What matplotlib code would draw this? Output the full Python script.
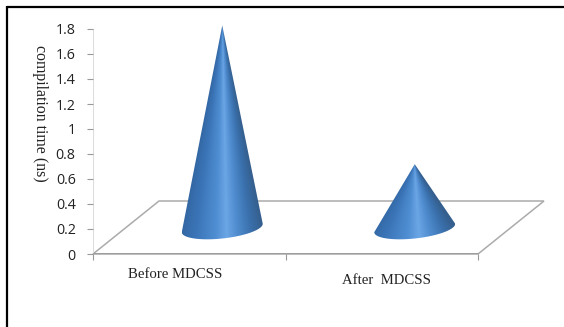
import numpy as np
import matplotlib
matplotlib.use("Agg")
import matplotlib.pyplot as plt
from matplotlib.patches import Polygon
from matplotlib.lines import Line2D
from matplotlib.colors import LinearSegmentedColormap

categories = ["Before MDCSS", "After MDCSS"]
compilation_time = [1.62, 0.51]
y_ticks = [0, 0.2, 0.4, 0.6, 0.8, 1, 1.2, 1.4, 1.6, 1.8]
y_tick_labels = ["0", "0.2", "0.4", "0.6", "0.8", "1", "1.2", "1.4", "1.6", "1.8"]
y_label = "compilation time (ns)"

W, H = 564, 327
fig = plt.figure(figsize=(W / 100, H / 100), dpi=100, facecolor="white")
# plot box: x 93..545 px, y 254..8 px
ax = fig.add_axes([93 / W, 1 - 254 / H, (545 - 93) / W, (254 - 8) / H])
px_x = 192.5  # px per category
px_y = 125.0  # px per unit
ax.set_xlim(-0.5, -0.5 + (545 - 93) / px_x)
ax.set_ylim(0, (254 - 8) / px_y)
ax.patch.set_alpha(0)
for s in ax.spines.values():
    s.set_visible(False)

# floor
dx, dy = 66 / px_x, 53 / px_y
floor = Polygon([(-0.5, 0), (1.5, 0), (1.5 + dx, dy), (-0.5 + dx, dy)], closed=True,
                fc="white", ec="#ababab", lw=1.1, zorder=1, clip_on=False)
ax.add_patch(floor)
ax.plot([-0.5, 1.5], [0, 0], color="#9a9a9a", lw=1.3, zorder=2)
ax.plot([-0.5, -0.5], [0, 1.8], color="#dddddd", lw=0.8, zorder=1)

cmap = LinearSegmentedColormap.from_list("cone", [
    (0.0, "#3367a3"), (0.18, "#3b75b8"), (0.42, "#4f8ed2"), (0.55, "#6ba6e6"),
    (0.68, "#4f8ccf"), (0.85, "#3a70ac"), (1.0, "#355f8e")])

rx, ry = 40.5 / px_x, 10.5 / px_y
tilt = 4.2 / px_y
base_y = 26 / px_y
for i, v in enumerate(compilation_time):
    cx = i + dx / 2
    apex = base_y + v
    t = np.linspace(0, np.pi, 60)
    ex = cx - rx * np.cos(t)
    ey = base_y - ry * np.sin(t) - tilt * np.cos(t)
    pts = list(zip(ex, ey)) + [(cx, apex)]
    poly = Polygon(pts, closed=True, fc="none", ec="none", zorder=3)
    ax.add_patch(poly)
    # shading converges on the apex, as on a real cone
    bottom = base_y - ry - tilt
    gx, gy = np.meshgrid(np.linspace(cx - rx, cx + rx, 240), np.linspace(bottom, apex, 300))
    frac = np.clip((apex - gy) / v, 0.004, None)
    shade = np.clip(0.5 + (gx - cx) / (2 * rx * frac), 0, 1)
    im = ax.imshow(shade, extent=(cx - rx, cx + rx, bottom, apex), origin="lower",
                   cmap=cmap, vmin=0, vmax=1, aspect="auto", zorder=3, interpolation="bilinear")
    im.set_clip_path(poly)
ax.set_xlim(-0.5, -0.5 + (545 - 93) / px_x)
ax.set_ylim(0, (254 - 8) / px_y)

ax.set_yticks(y_ticks)
ax.set_yticklabels(y_tick_labels, family="Open Sans", fontsize=10.3, color="#222222")
ax.set_xticks([-0.5, 0.5, 1.5])
ax.set_xticklabels([])
ax.tick_params(axis="y", length=4.5, width=0.8, color="#999999", pad=8)
ax.tick_params(axis="x", length=4, width=0.8, color="#999999")

fig.text(175 / W, 1 - 274 / H, categories[0], family="Liberation Serif", fontsize=10.6,
         ha="center", va="center", color="#222222")
fig.text(387 / W, 1 - 280 / H, categories[1].replace(" ", "  "), family="Liberation Serif", fontsize=10.6,
         ha="center", va="center", color="#222222")
fig.text(40 / W, 1 - 113 / H, y_label, family="Liberation Serif", fontsize=11.4,
         rotation=270, ha="center", va="center", color="#222222")

# outer frame: only the top and left edges are inside the picture
fig.add_artist(Line2D([6.5 / W, 1], [1 - 7 / H, 1 - 7 / H], transform=fig.transFigure,
                      color="black", lw=1.6, solid_capstyle="butt"))
fig.add_artist(Line2D([6.5 / W, 6.5 / W], [0, 1 - 6 / H], transform=fig.transFigure,
                      color="black", lw=1.6, solid_capstyle="butt"))
fig.savefig("out.png", dpi=100)
